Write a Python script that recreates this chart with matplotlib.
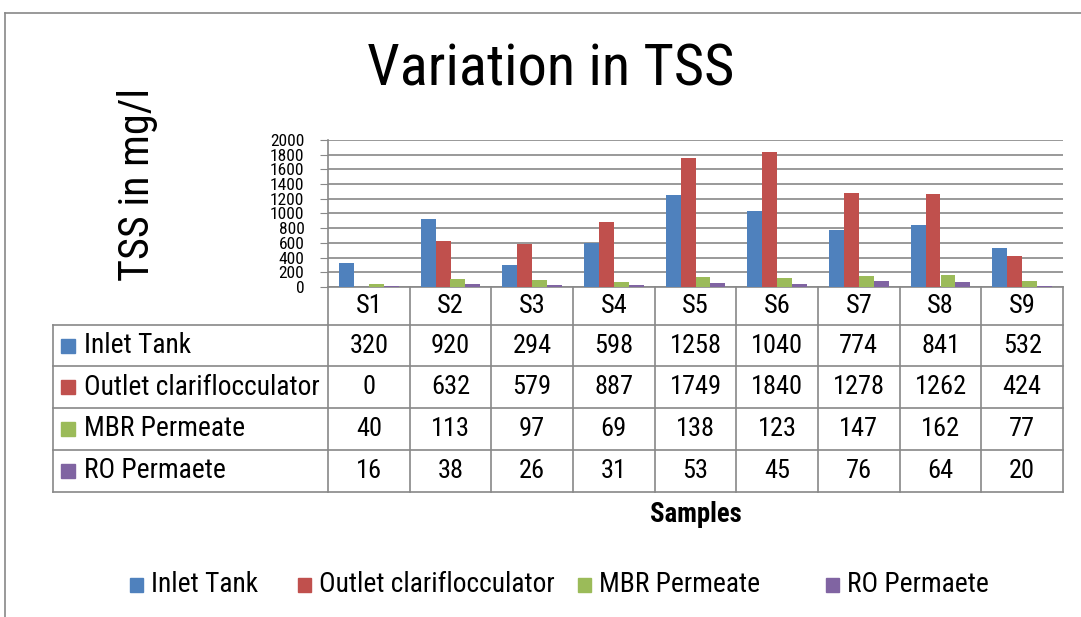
import numpy as np
import matplotlib.pyplot as plt
from matplotlib import font_manager

# Variation in TSS - bar chart with data table underneath

samples = ['S1', 'S2', 'S3', 'S4', 'S5', 'S6', 'S7', 'S8', 'S9']
series_names = ['Inlet Tank', 'Outlet clariflocculator', 'MBR Permeate', 'RO Permaete']
inlet_tank = [320, 920, 294, 598, 1258, 1040, 774, 841, 532]
outlet_clari = [0, 632, 579, 887, 1749, 1840, 1278, 1262, 424]
mbr_permeate = [40, 113, 97, 69, 138, 123, 147, 162, 77]
ro_permeate = [16, 38, 26, 31, 53, 45, 76, 64, 20]
yticks = list(range(0, 2001, 200))

colors = ['#4F81BD', '#C0504D', '#9BBB59', '#8064A2']
series = [inlet_tank, outlet_clari, mbr_permeate, ro_permeate]

names = {f.name for f in font_manager.fontManager.ttflist}
fam = 'DejaVu Sans'
for cand in ['Liberation Sans Narrow', 'Roboto Condensed', 'Lato']:
    if cand in names:
        fam = cand
        break
plt.rcParams['font.family'] = [fam, 'DejaVu Sans']

W, H = 1081, 617
fig = plt.figure(figsize=(W / 100, H / 100), dpi=100)
rend = fig.canvas.get_renderer()

def px(x0, y0, x1, y1):
    # pixel box (top-left origin) -> figure fraction rect
    return [x0 / W, 1 - y1 / H, (x1 - x0) / W, (y1 - y0) / H]

def fit(t, target, vertical=False):
    bb = t.get_window_extent(rend)
    size = bb.height if vertical else bb.width
    t.set_fontsize(t.get_fontsize() * target / size)

# outer frame
fig.add_artist(plt.Line2D([5 / W, 1], [1 - 13 / H, 1 - 13 / H], color='#888888', lw=1.2))
fig.add_artist(plt.Line2D([5 / W, 5 / W], [0, 1 - 13 / H], color='#888888', lw=1.2))

# plot area
ax = fig.add_axes(px(328, 140, 1063, 287))
n = len(samples)
x = np.arange(n)
w = 1 / 5.5
for i, (vals, c) in enumerate(zip(series, colors)):
    ax.bar(x + (i - 1.5) * w, vals, width=w, color=c, zorder=3)
ax.set_xlim(-0.5, n - 0.5)
ax.set_ylim(0, 2000)
ax.set_yticks(yticks)
ax.set_yticklabels([str(t) for t in yticks], fontsize=12.5)
ax.tick_params(axis='y', length=6, color='#888888', pad=11)
ax.set_xticks([])
ax.grid(axis='y', color='#888888', lw=1.2, zorder=0)
for s in ['top', 'right']:
    ax.spines[s].set_visible(False)
for s in ['left', 'bottom']:
    ax.spines[s].set_color('#888888')
    ax.spines[s].set_linewidth(1.2)

# data table
tab = fig.add_axes(px(53, 287, 1063, 492))
cat_w = 735 / n
left = -0.5 - (328 - 53) / cat_w
tab.set_xlim(left, n - 0.5)
tab.set_ylim(205, 0)
tab.axis('off')
row_edges = [0, 38, 79, 121, 163, 205]
lc = '#888888'
for b in np.arange(n + 1) - 0.5:
    tab.plot([b, b], [0, 205], color=lc, lw=1.2, clip_on=False)
tab.plot([left, left], [38, 205], color=lc, lw=1.2, clip_on=False)
for yy in row_edges[1:]:
    tab.plot([left, n - 0.5], [yy, yy], color=lc, lw=1.2, clip_on=False)

t = tab.text(0, 0, '1258', fontsize=18)
fit(t, 52)
num_size = t.get_fontsize()
t.remove()
t = tab.text(0, 0, 'Outlet clariflocculator', fontsize=18)
fit(t, 236)
lab_size = t.get_fontsize()
t.remove()

for j, s in enumerate(samples):
    tab.text(j, 19, s, ha='center', va='center', fontsize=num_size)
for r, (name, vals, c) in enumerate(zip(series_names, series, colors)):
    yc = (row_edges[r + 1] + row_edges[r + 2]) / 2
    tab.add_patch(plt.Rectangle((left + 0.1, yc - 7), 0.17, 14, color=c, clip_on=False))
    tab.text(left + 0.38, yc, name, ha='left', va='center', fontsize=lab_size)
    for j, v in enumerate(vals):
        tab.text(j, yc, str(v), ha='center', va='center', fontsize=num_size)

s_lab = fig.text(696 / W, 1 - 515 / H, 'Samples', ha='center', va='center',
                 fontsize=15, fontweight='bold')
fit(s_lab, 92)
y_lab = fig.text(138 / W, 1 - 184 / H, 'TSS in mg/l', ha='center', va='center',
                 rotation=90, fontsize=30)
fit(y_lab, 193, vertical=True)
title = fig.text(551 / W, 1 - 70 / H, 'Variation in TSS', ha='center', va='center',
                 fontsize=40)
fit(title, 368)

# legend at the bottom
leg_x = [130, 298, 578, 826]
leg_y = 585
for xx, name, c in zip(leg_x, series_names, colors):
    fig.add_artist(plt.Rectangle((xx / W, 1 - (leg_y + 7) / H), 13 / W, 14 / H,
                                 color=c, transform=fig.transFigure))
    fig.text((xx + 21) / W, 1 - leg_y / H, name, ha='left', va='center', fontsize=lab_size)

fig.savefig('out.png', dpi=100)
